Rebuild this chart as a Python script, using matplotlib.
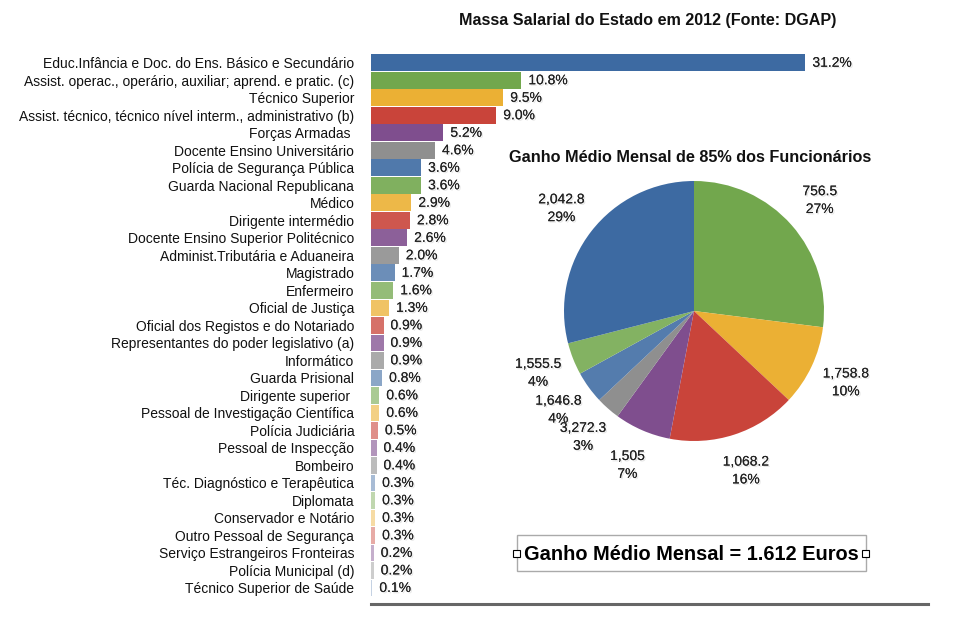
import matplotlib
matplotlib.use("Agg")
import matplotlib.pyplot as plt
import matplotlib.patheffects as pe
from matplotlib.patches import Rectangle
import matplotlib.colors as mcolors

plt.rcParams['font.family'] = ['Liberation Sans', 'DejaVu Sans']

# ---------------- data ----------------
categories = [
    "Educ.Infância e Doc. do Ens. Básico e Secundário",
    "Assist. operac., operário, auxiliar; aprend. e pratic. (c)",
    "Técnico Superior",
    "Assist. técnico, técnico nível interm., administrativo (b)",
    "Forças Armadas ",
    "Docente Ensino Universitário",
    "Polícia de Segurança Pública",
    "Guarda Nacional Republicana",
    "Médico",
    "Dirigente intermédio",
    "Docente Ensino Superior Politécnico",
    "Administ.Tributária e Aduaneira",
    "Magistrado",
    "Enfermeiro",
    "Oficial de Justiça",
    "Oficial dos Registos e do Notariado",
    "Representantes do poder legislativo (a)",
    "Informático",
    "Guarda Prisional",
    "Dirigente superior ",
    "Pessoal de Investigação Científica",
    "Polícia Judiciária",
    "Pessoal de Inspecção",
    "Bombeiro",
    "Téc. Diagnóstico e Terapêutica",
    "Diplomata",
    "Conservador e Notário",
    "Outro Pessoal de Segurança",
    "Serviço Estrangeiros Fronteiras",
    "Polícia Municipal (d)",
    "Técnico Superior de Saúde",
]
shares = [31.2, 10.8, 9.5, 9.0, 5.2, 4.6, 3.6, 3.6, 2.9, 2.8, 2.6, 2.0, 1.7, 1.6,
          1.3, 0.9, 0.9, 0.9, 0.8, 0.6, 0.6, 0.5, 0.4, 0.4, 0.3, 0.3, 0.3, 0.3,
          0.2, 0.2, 0.1]

pie_pct = [27, 10, 16, 7, 3, 4, 4, 29]
pie_wage = ["756.5", "1,758.8", "1,068.2", "1,505", "3,272.3", "1,646.8", "1,555.5", "2,042.8"]

title_main = "Massa Salarial do Estado em 2012 (Fonte: DGAP)"
title_pie = "Ganho Médio Mensal de 85% dos Funcionários"
box_text = "Ganho Médio Mensal = 1.612 Euros"

# ---------------- styles ----------------
base = ["#3D6AA2", "#72A74D", "#EBB034", "#C9443A", "#7F4E8E", "#8F8F8F"]
light = [0.0, 0.10, 0.24, 0.40, 0.55, 0.70]

def lighten(c, t):
    r, g, b = mcolors.to_rgb(c)
    return (r + (1 - r) * t, g + (1 - g) * t, b + (1 - b) * t)

bar_colors = [lighten(base[i % 6], light[i // 6]) for i in range(len(shares))]
pie_colors = [base[1], base[2], base[3], base[4], base[5],
              lighten(base[0], 0.12), lighten(base[1], 0.12), base[0]]

shadow = [pe.withSimplePatchShadow(offset=(1, -1), shadow_rgbFace="#aaaaaa", alpha=0.3),
          pe.Normal()]

W, H = 954, 621
fig = plt.figure(figsize=(W / 100, H / 100), dpi=100)

# ---------------- bar chart ----------------
ax = fig.add_axes([371 / W, (H - 604) / H, (928 - 371) / W, (604 - 54) / H])
y = list(range(len(shares)))
ax.barh(y, shares, height=0.95, color=bar_colors, edgecolor="none")
ax.set_xlim(0, 40)
ax.set_ylim(len(shares) - 0.08, -0.5)
ax.set_yticks(y)
ax.set_yticklabels(categories, fontsize=10, color="#111111")
ax.tick_params(axis="y", length=0, pad=12)
ax.set_xticks([])
for s in ["top", "right", "left"]:
    ax.spines[s].set_visible(False)
ax.spines["bottom"].set_color("#666666")
ax.spines["bottom"].set_linewidth(2.2)
for yi, v in zip(y, shares):
    ax.annotate(f"{v:.1f}%", (v, yi), xytext=(5, 0), textcoords="offset points",
                va="center", ha="left", fontsize=10, color="#222222",
                path_effects=shadow)

fig.text(648 / W, 1 - 21 / H, title_main, ha="center", va="center",
         fontsize=11.6, fontweight="bold", color="#111111")

# ---------------- pie chart ----------------
cx, cy, R = 694, 311, 130
half = 160
pax = fig.add_axes([(cx - half) / W, (H - cy - half) / H, 2 * half / W, 2 * half / H])
labels = [f"{w}\n{p}%" for w, p in zip(pie_wage, pie_pct)]
wedges, texts = pax.pie(pie_pct, colors=pie_colors, startangle=90, counterclock=False,
                        labels=labels, labeldistance=1.29, radius=1,
                        wedgeprops=dict(linewidth=0),
                        textprops=dict(fontsize=10, color="#222222", ha="center",
                                       va="center", linespacing=1.35))
for t in texts:
    t.set_ha("center")
    t.set_va("center")
    t.set_path_effects(shadow)
lim = half / R
pax.set_xlim(-lim, lim)
pax.set_ylim(-lim, lim)
pax.set_aspect("equal")
pax.axis("off")

fig.text(690 / W, 1 - 157 / H, title_pie, ha="center", va="center",
         fontsize=11.7, fontweight="bold", color="#111111")

# ---------------- box ----------------
bx0, bx1, by0, by1 = 517, 866, 535, 571
fig.patches.append(Rectangle((bx0 / W, 1 - by1 / H), (bx1 - bx0) / W, (by1 - by0) / H,
                             transform=fig.transFigure, facecolor="white",
                             edgecolor="#AAAAAA", linewidth=1))
fig.text((bx0 + bx1) / 2 / W, 1 - 555 / H, box_text, ha="center", va="center",
         fontsize=14.4, fontweight="bold", color="#000000")
for hx in (bx0, bx1):
    fig.patches.append(Rectangle(((hx - 3.5) / W, 1 - (553 + 3.5) / H), 7 / W, 7 / H,
                                 transform=fig.transFigure, facecolor="white",
                                 edgecolor="#000000", linewidth=0.8, zorder=5))

fig.savefig("out.png", dpi=100)
